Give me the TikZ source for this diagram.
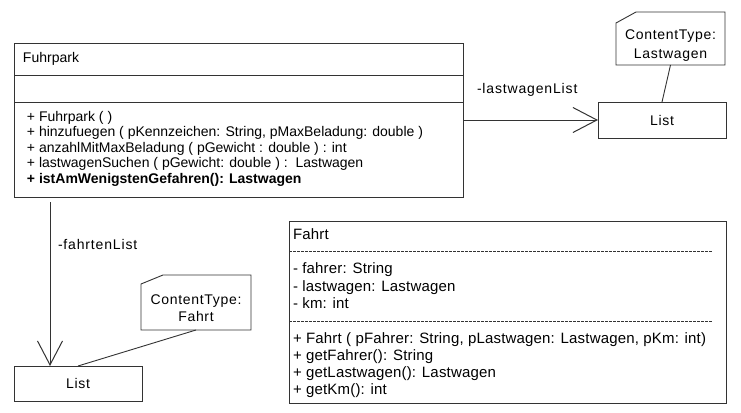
\documentclass[tikz,border=0pt]{standalone}
\usepackage{fontspec}
\setmainfont{Liberation Sans}
\newfontfamily\lblfont[LetterSpace=6]{Liberation Sans}
\newfontfamily\notefont[LetterSpace=5]{Liberation Sans}
\newfontfamily\fahrtfont[LetterSpace=1.2]{Liberation Sans}
\usetikzlibrary{arrows.meta}
\definecolor{ln}{HTML}{333333}
\tikzset{
  every node/.style={font=\fontsize{14}{16}\selectfont, inner sep=0pt, outer sep=0pt},
  box/.style={draw=ln, line width=1pt, anchor=north west},
  txt/.style={anchor=base west},
  ftxt/.style={anchor=base west, font=\fahrtfont\fontsize{15}{17}\selectfont},
  ltxt/.style={anchor=base west, font=\lblfont\fontsize{14}{16}\selectfont},
  ctxt/.style={anchor=base, font=\notefont\fontsize{14}{16}\selectfont},
  conn/.style={draw=ln, line width=0.9pt},
  assoc/.style={conn, -{Straight Barb[length=24pt, width=25pt, line width=1pt]}},
  sep/.style={draw=ln, line width=1pt},
  dsep/.style={draw=ln, line width=0.7pt, dash pattern=on 3pt off 1pt},
  notebox/.style={minimum width=109pt, minimum height=53pt},
}
\begin{document}
\begin{tikzpicture}[x=1pt, y=-1pt]
\useasboundingbox (0,0) rectangle (741,412);
\fill[white] (0,0) rectangle (741,412);

% Fuhrpark class
\node[box, minimum width=449pt, minimum height=153pt] (fuhrpark) at (14,44) {};
\draw[sep] (14,75) -- (463,75);
\draw[sep] (14,102) -- (463,102);
\node[txt] (ftitle) at (23,63) {Fuhrpark};
\node[txt] (fm1) at (27,121) {+ Fuhrpark ( )};
\node[txt] (fm2) at (27,136) {+ hinzufuegen ( pKennzeichen: String, pMaxBeladung: double )};
\node[txt] (fm3) at (27,152) {+ anzahlMitMaxBeladung ( pGewicht : double ) : int};
\node[txt] (fm4) at (27,167) {+ lastwagenSuchen ( pGewicht: double ) :\ \ Lastwagen};
\node[txt] (fm5) at (27,183) {\bfseries + istAmWenigstenGefahren(): Lastwagen};

% right List and note
\node[box, minimum width=128pt, minimum height=36pt] (listR) at (598,102) {};
\node[ctxt] (listRt) at (662,125) {List};
\node[notebox] (noteR) at (670.5,38.5) {};
\draw[conn] (noteR.south west) -- (noteR.south east) -- (noteR.north east)
  -- ([xshift=20pt]noteR.north west) -- ([yshift=-11pt]noteR.north west) -- cycle;
\node[ctxt] (noteRt1) at (670.5,40) {ContentType:};
\node[ctxt] (noteRt2) at (670.5,59) {Lastwagen};
\draw[conn] (noteR.south) -- (listR.north);
\draw[assoc] (fuhrpark.east |- listR.west) -- (listR.west);
\node[ltxt] (lwl) at (477,93) {-lastwagenList};

% left List and note
\node[box, minimum width=128pt, minimum height=35pt] (listL) at (14,366) {};
\node[ctxt] (listLt) at (78,388) {List};
\node[notebox, minimum width=110pt, minimum height=55pt] (noteL) at (196,302.5) {};
\draw[conn] (noteL.south west) -- (noteL.south east) -- (noteL.north east)
  -- ([xshift=22pt]noteL.north west) -- ([yshift=-9pt]noteL.north west) -- cycle;
\node[ctxt] (noteLt1) at (196,304) {ContentType:};
\node[ctxt] (noteLt2) at (196,321) {Fahrt};
\draw[conn] (noteL.south) -- (listL.north);
\coordinate (fstart) at (50,202);
\draw[assoc] (fstart) -- (fstart |- listL.north);
\node[ltxt] (fl) at (58,249) {-fahrtenList};

% Fahrt class
\node[box, minimum width=437pt, minimum height=182pt] (fahrt) at (289,221) {};
\node[ftxt] (fatitle) at (293,239) {Fahrt};
\draw[dsep] (289,251) -- (712,251);
\node[ftxt] (fa1) at (293,273) {- fahrer: String};
\node[ftxt] (fa2) at (293,291) {- lastwagen: Lastwagen};
\node[ftxt] (fa3) at (293,308) {- km: int};
\draw[dsep] (289,321) -- (712,321);
\node[ftxt] (fb1) at (293,343) {+ Fahrt ( pFahrer: String, pLastwagen: Lastwagen, pKm: int)};
\node[ftxt] (fb2) at (293,360) {+ getFahrer(): String};
\node[ftxt] (fb3) at (293,377) {+ getLastwagen(): Lastwagen};
\node[ftxt] (fb4) at (293,394) {+ getKm(): int};
\end{tikzpicture}
\end{document}
